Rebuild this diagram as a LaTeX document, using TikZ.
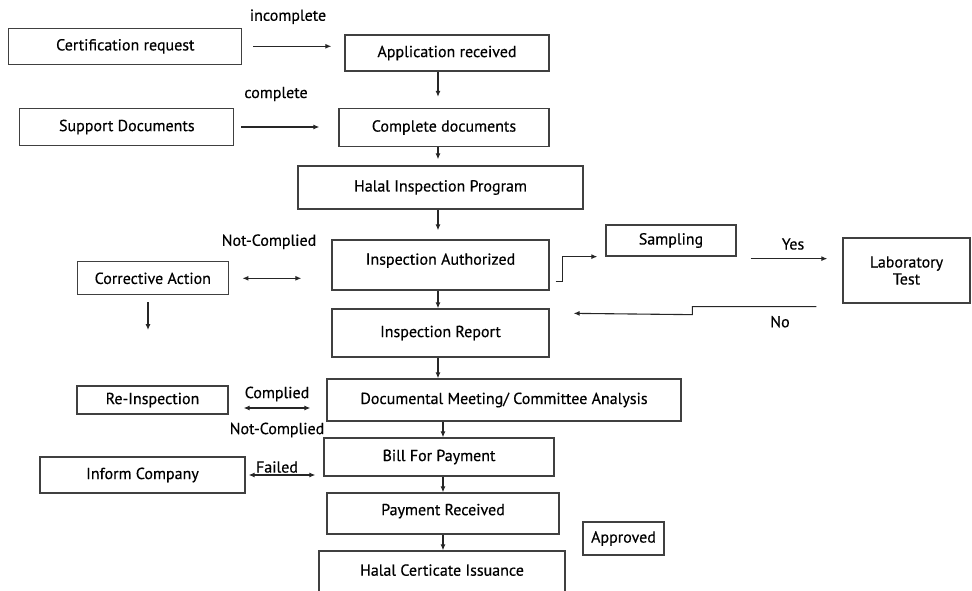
\documentclass[tikz,border=0pt]{standalone}
\usepackage{fontspec}
\setmainfont{PT Sans}[FakeBold=0.4]
\usetikzlibrary{arrows.meta}

\tikzset{
	box/.style={draw=black!75, line width=1.3pt, inner sep=0pt, align=center, font=\fontsize{16}{17}\selectfont},
	lbl/.style={inner sep=0pt, font=\fontsize{16}{17}\selectfont},
	arr/.style={-{Latex[length=6pt,width=5pt]}, line width=1.1pt, draw=black!85},
	darr/.style={{Latex[length=6pt,width=5pt]}-{Latex[length=6pt,width=5pt]}, line width=1.1pt, draw=black!85}
}

\begin{document}
\begin{tikzpicture}[x=1pt, y=-1pt]
		%%%%% START %%%%%
		\useasboundingbox (0,0) rectangle (972,590);
		\clip (0,0) rectangle (972,590);
		
		% main column
		\node[box, minimum width=233pt, minimum height=36pt] (cert) at (125.3,46.3) {Certification request};
		\node[box, minimum width=204pt, minimum height=36pt] (app) at (447,53) {Application received};
		\node[box, minimum width=214pt, minimum height=37pt] (supp) at (126.8,127) {Support Documents};
		\node[box, minimum width=210pt, minimum height=38pt] (cdoc) at (444,127.5) {Complete documents};
		\node[box, minimum width=285pt, minimum height=43pt] (hip) at (440.5,187.5) {Halal Inspection Program};
		\node[box, minimum width=217pt, minimum height=50pt] (ia) at (440.5,265) {\raisebox{12pt}{Inspection Authorized}};
		\node[box, minimum width=151pt, minimum height=33pt] (corr) at (152.8,278.3) {Corrective Action};
		\node[box, minimum width=130pt, minimum height=31pt] (samp) at (671,240.5) {Sampling};
		\node[box, minimum width=127pt, minimum height=65pt] (lab) at (906.5,270.5) {Laboratory\\Test};
		\node[box, minimum width=217pt, minimum height=48pt] (ir) at (440.5,333) {Inspection Report};
		\node[box, minimum width=354pt, minimum height=42pt] (dm) at (504,400) {Documental Meeting/ Committee Analysis};
		\node[box, minimum width=151pt, minimum height=28pt] (reins) at (152.5,400) {Re-Inspection};
		\node[box, minimum width=230pt, minimum height=38pt] (bill) at (439,457) {Bill For Payment};
		\node[box, minimum width=205pt, minimum height=36pt] (inform) at (142.5,475) {Inform Company};
		\node[box, minimum width=232pt, minimum height=41pt] (pr) at (443,513.5) {\raisebox{8pt}{Payment Received}};
		\node[box, minimum width=81pt, minimum height=33pt] (appr) at (623.5,538.5) {Approved};
		\node[box, minimum width=246pt, minimum height=46pt] (hci) at (442,574) {\raisebox{8pt}{Halal Certicate Issuance}};
		
		% labels
		\node[lbl] (incompl) at (288,16.7) {incomplete};
		\node[lbl] (compl) at (276,94) {complete};
		\node[lbl] (notcompla) at (269,241.7) {Not-Complied};
		\node[lbl] (yes) at (793,244) {Yes};
		\node[lbl] (no) at (780,321.7) {No};
		\node[lbl] (complb) at (277,394) {Complied};
		\node[lbl] (notcomplb) at (277,430) {Not-Complied};
		\node[lbl] (failed) at (277,467) {Failed};
		
		\coordinate (spine) at (438,0);
		\coordinate (spinelow) at (443,0);
		\coordinate (corrend) at (148,330);
		
		% arrows
		\draw[arr, shorten <=11pt, shorten >=13pt] (cert.east) -- (cert.east -| app.west);
		\draw[arr, shorten <=7pt, shorten >=19pt] (supp.east) -- (supp.east -| cdoc.west);
		\draw[arr, shorten >=11pt] (app.south -| spine) -- (cdoc.north -| spine);
		\draw[arr, shorten >=6pt] (cdoc.south -| spine) -- (hip.north -| spine);
		\draw[arr, shorten >=9pt] (hip.south -| spine) -- (ia.north -| spine);
		\draw[arr] (ia.south -| spine) -- (ir.north -| spine);
		\draw[arr] (ir.south -| spine) -- (dm.north -| spine);
		\draw[arr] (dm.south -| spinelow) -- (bill.north -| spinelow);
		\draw[arr] (bill.south -| spinelow) -- (pr.north -| spinelow);
		\draw[arr] (pr.south -| spinelow) -- (hci.north -| spinelow);
		
		\draw[darr, shorten <=13.5pt, shorten >=30pt] (corr.east) -- (corr.east -| ia.west);
		\draw[arr, shorten <=6.7pt] (corrend |- corr.south) -- (corrend);
		
		\draw[arr] ([shift={(6pt,-16.7pt)}]ia.east) -- ++(6.7,0) |- ([xshift=-8pt]samp.south west);
		\draw[arr, shorten >=15pt] ([shift={(14pt,-2pt)}]samp.south east) coordinate (yesstart) -- (yesstart -| lab.west);
		\draw[arr] ([shift={(-26pt,-3pt)}]lab.south west) -- ++(-124,0) -- ++(0,8) -- ([shift={(24pt,-5pt)}]ir.north east);
		
		\draw[darr, shorten <=15pt, shorten >=16pt] ([yshift=-8pt]reins.east) coordinate (compstart) -- (compstart -| dm.west);
		\draw[darr, shorten <=3pt, shorten >=8pt] (inform.east) -- (inform.east -| bill.west);
		
		%%%%% END %%%%%
\end{tikzpicture}
\end{document}
